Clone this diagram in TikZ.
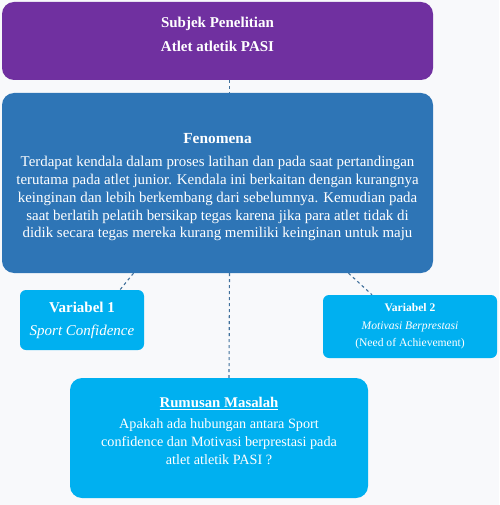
\documentclass[tikz,border=0pt]{standalone}
\usepackage{fontspec}
\setmainfont{Liberation Serif}
\usepackage{xcolor}
\usetikzlibrary{calc}

\definecolor{ungu}{HTML}{7030A0}
\definecolor{biru}{HTML}{2E75B6}
\definecolor{birumuda}{HTML}{00B0F0}
\definecolor{garis}{HTML}{41719C}
\definecolor{latar}{HTML}{F8F9FB}

\begin{document}
\begin{tikzpicture}[
    x=1pt, y=-1pt,
    every node/.style={text=white, align=center, inner sep=0pt},
    kotak/.style={rounded corners=12pt, draw=none},
    link/.style={garis, dashed, line width=1.1pt},
    judul/.style={font=\fontsize{15}{18}\selectfont\bfseries},
    isi/.style={font=\fontsize{14.9}{17.8}\selectfont}
]

\fill[latar] (0,0) rectangle (499,505);
\useasboundingbox (0,0) rectangle (499,505);

% Subjek penelitian
\node[kotak, fill=ungu, minimum width=431pt, minimum height=78pt] (subjek) at (217.5,41) {};
\node[judul] (subjekteks) at (217.5,34.5) {Subjek Penelitian\\[6pt]Atlet atletik PASI};

% Fenomena
\node[kotak, fill=biru, minimum width=431pt, minimum height=180pt] (fenomena) at (217.5,183) {};
\node[isi] (fenomenateks) at (217.5,187.5) {\textbf{\fontsize{15.4}{17.8}\selectfont Fenomena}\\[5pt]
Terdapat kendala dalam proses latihan dan pada saat pertandingan\\
terutama pada atlet junior. Kendala ini berkaitan dengan kurangnya\\
keinginan dan lebih berkembang dari sebelumnya. Kemudian pada\\
saat berlatih pelatih bersikap tegas karena jika para atlet tidak di\\
didik secara tegas mereka kurang memiliki keinginan untuk maju};

% Variabel
\node[kotak, rounded corners=6pt, fill=birumuda, minimum width=124pt, minimum height=60pt,
    font=\fontsize{15}{23}\selectfont] (var1) at (82,320)
    {\textbf{Variabel 1}\\\textit{Sport Confidence}};
\node[kotak, rounded corners=6pt, fill=birumuda, minimum width=174pt, minimum height=63pt,
    font=\fontsize{11.6}{17.5}\selectfont] (var2) at (410,326.5)
    {\textbf{Variabel 2}\\\textit{Motivasi Berprestasi}\\(Need of Achievement)};

% Rumusan masalah
\node[kotak, fill=birumuda, minimum width=298pt, minimum height=120pt] (rumusan) at (219,438) {};
\node[isi, font=\fontsize{14.2}{18}\selectfont] (rumusanteks) at (219,431)
    {\textbf{\underline{\fontsize{14.8}{18}\selectfont Rumusan Masalah}}\\[3pt]
    Apakah ada hubungan antara Sport\\
    confidence dan Motivasi berprestasi pada\\
    atlet atletik PASI ?};

% Garis penghubung
\draw[link] ([xshift=12pt]subjek.south) -- ([xshift=12pt]fenomena.north);
\draw[link] ([xshift=12pt]fenomena.south) -- ([xshift=10pt]rumusan.north);
\draw[link] ([xshift=-84pt]fenomena.south) -- ([xshift=38pt]var1.north);
\draw[link] ([xshift=131pt]fenomena.south) -- ([xshift=-38pt]var2.north);

\end{tikzpicture}
\end{document}
